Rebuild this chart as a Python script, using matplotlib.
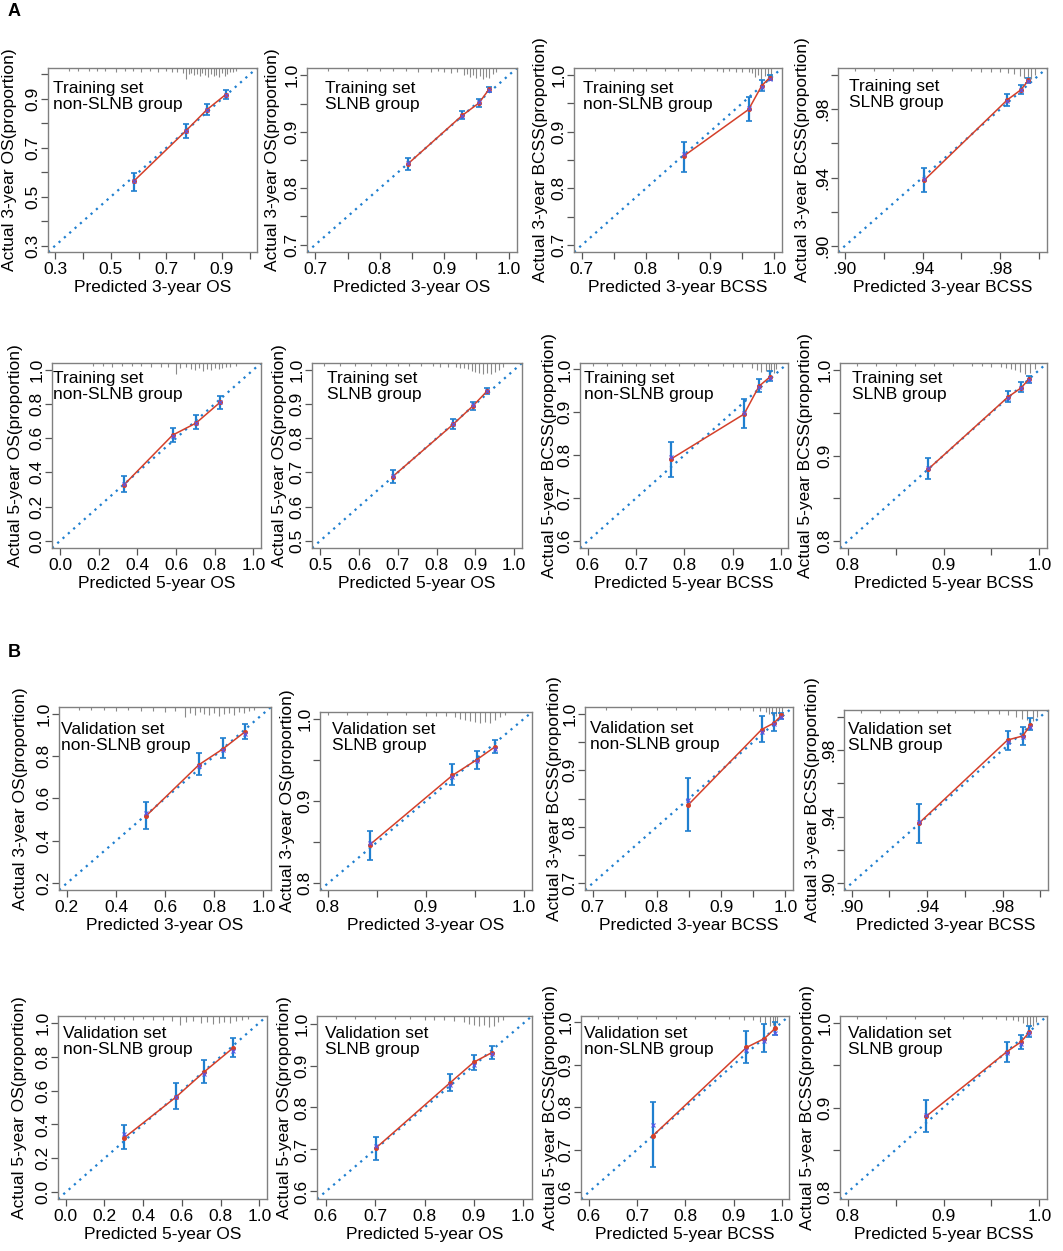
import matplotlib
matplotlib.use("Agg")
import matplotlib.pyplot as plt

plt.rcParams['font.family'] = ['Liberation Sans', 'DejaVu Sans']

W, H = 1063, 1251

# ---------------- data ----------------
# Training set, 3-year OS, non-SLNB
t3os_n_x = [0.583, 0.770, 0.846, 0.914]
t3os_n_y = [0.564, 0.769, 0.856, 0.918]
t3os_n_lo = [0.525, 0.742, 0.833, 0.899]
t3os_n_hi = [0.598, 0.799, 0.881, 0.938]
t3os_n_yc = [0.566, 0.768, 0.853, 0.915]
t3os_n_rx = [0.35, 0.38, 0.42, 0.45, 0.48, 0.52, 0.55, 0.58, 0.61, 0.64, 0.67, 0.70, 0.72, 0.74, 0.76, 0.77, 0.78,
             0.79, 0.80, 0.81, 0.82, 0.83, 0.84, 0.85, 0.86, 0.87, 0.88, 0.89, 0.90, 0.91, 0.92, 0.93, 0.94, 0.95]
t3os_n_rh = [1, 1, 1, 1, 1, 2, 1, 1, 2, 1, 2, 1, 2, 2, 3, 9, 4, 3, 5, 4, 6, 3, 5, 7, 4, 6, 5, 7, 3, 6, 4, 2, 2, 1]

# Training set, 3-year OS, SLNB
t3os_s_x = [0.844, 0.928, 0.954, 0.970]
t3os_s_y = [0.8435, 0.929, 0.951, 0.976]
t3os_s_lo = [0.832, 0.922, 0.944, 0.970]
t3os_s_hi = [0.854, 0.936, 0.958, 0.979]
t3os_s_yc = [0.845, 0.928, 0.952, 0.974]
t3os_s_rx = [0.72, 0.75, 0.78, 0.80, 0.82, 0.84, 0.86, 0.88, 0.89, 0.90, 0.91, 0.92, 0.93, 0.935, 0.94, 0.945,
             0.95, 0.955, 0.96, 0.965, 0.97, 0.975, 0.98]
t3os_s_rh = [1, 1, 1, 1, 1, 1, 2, 2, 1, 2, 3, 2, 5, 4, 7, 5, 8, 6, 9, 7, 8, 4, 2]

# Training set, 3-year BCSS, non-SLNB
t3bc_n_x = [0.859, 0.960, 0.9805, 0.993]
t3bc_n_y = [0.857, 0.939, 0.981, 0.995]
t3bc_n_lo = [0.829, 0.919, 0.972, 0.991]
t3bc_n_hi = [0.882, 0.961, 0.990, 1.000]
t3bc_n_yc = [0.860, 0.941, 0.979, 0.993]
t3bc_n_rx = [0.72, 0.75, 0.78, 0.80, 0.83, 0.85, 0.87, 0.89, 0.91, 0.92, 0.93, 0.94, 0.95, 0.96, 0.965, 0.97,
             0.975, 0.98, 0.985, 0.99, 0.995]
t3bc_n_rh = [1, 1, 1, 1, 1, 1, 1, 1, 1, 2, 1, 2, 2, 2, 3, 7, 5, 9, 6, 10, 6]

# Training set, 3-year BCSS, SLNB
t3bc_s_x = [0.9409, 0.9836, 0.9905, 0.9944]
t3bc_s_y = [0.9385, 0.9854, 0.9912, 0.9967]
t3bc_s_lo = [0.9316, 0.9818, 0.9887, 0.9951]
t3bc_s_hi = [0.9453, 0.9887, 0.9938, 0.9980]
t3bc_s_yc = [0.9393, 0.9850, 0.9910, 0.9963]
t3bc_s_rx = [0.905, 0.915, 0.925, 0.935, 0.945, 0.955, 0.965, 0.970, 0.975, 0.980, 0.984, 0.987, 0.990, 0.992,
             0.994, 0.996, 0.998]
t3bc_s_rh = [1, 1, 1, 1, 1, 1, 1, 2, 2, 2, 3, 4, 6, 8, 7, 9, 5]

# Training set, 5-year OS, non-SLNB
t5os_n_x = [0.332, 0.582, 0.704, 0.828]
t5os_n_y = [0.329, 0.618, 0.689, 0.810]
t5os_n_lo = [0.286, 0.577, 0.652, 0.773]
t5os_n_hi = [0.378, 0.661, 0.736, 0.847]
t5os_n_yc = [0.335, 0.612, 0.690, 0.812]
t5os_n_rx = [0.17, 0.22, 0.27, 0.32, 0.37, 0.42, 0.47, 0.52, 0.56, 0.60, 0.62, 0.65, 0.68, 0.70, 0.72, 0.74,
             0.76, 0.78, 0.80, 0.82, 0.84, 0.86, 0.88, 0.91]
t5os_n_rh = [1, 1, 2, 1, 1, 1, 2, 2, 2, 9, 3, 2, 4, 5, 3, 6, 4, 5, 3, 4, 3, 2, 2, 1]

# Training set, 5-year OS, SLNB
t5os_s_x = [0.687, 0.843, 0.894, 0.931]
t5os_s_y = [0.688, 0.841, 0.895, 0.939]
t5os_s_lo = [0.669, 0.827, 0.883, 0.930]
t5os_s_hi = [0.706, 0.857, 0.907, 0.946]
t5os_s_yc = [0.690, 0.843, 0.896, 0.937]
t5os_s_rx = [0.51, 0.55, 0.59, 0.63, 0.67, 0.70, 0.73, 0.76, 0.79, 0.81, 0.83, 0.85, 0.86, 0.87, 0.88, 0.89,
             0.90, 0.91, 0.92, 0.93, 0.94, 0.95, 0.96, 0.97]
t5os_s_rh = [1, 1, 1, 1, 1, 1, 1, 1, 1, 2, 2, 2, 3, 3, 4, 6, 7, 8, 9, 8, 9, 7, 5, 2]

# Training set, 5-year BCSS, non-SLNB
t5bc_n_x = [0.772, 0.924, 0.955, 0.977]
t5bc_n_y = [0.791, 0.896, 0.961, 0.982]
t5bc_n_lo = [0.749, 0.864, 0.947, 0.973]
t5bc_n_hi = [0.832, 0.930, 0.977, 0.996]
t5bc_n_yc = [0.797, 0.899, 0.958, 0.980]
t5bc_n_rx = [0.61, 0.64, 0.67, 0.70, 0.73, 0.76, 0.79, 0.82, 0.85, 0.88, 0.90, 0.92, 0.94, 0.95, 0.96, 0.97,
             0.975, 0.98, 0.985, 0.99]
t5bc_n_rh = [1, 1, 1, 1, 1, 1, 1, 1, 1, 1, 2, 2, 3, 5, 7, 6, 9, 7, 8, 4]

# Training set, 5-year BCSS, SLNB
t5bc_s_x = [0.884, 0.967, 0.981, 0.989]
t5bc_s_y = [0.884, 0.968, 0.979, 0.989]
t5bc_s_lo = [0.873, 0.962, 0.974, 0.985]
t5bc_s_hi = [0.897, 0.975, 0.986, 0.993]
t5bc_s_yc = [0.885, 0.967, 0.979, 0.988]
t5bc_s_rx = [0.81, 0.83, 0.85, 0.87, 0.89, 0.91, 0.93, 0.94, 0.95, 0.96, 0.965, 0.97, 0.975, 0.98, 0.985,
             0.99, 0.995]
t5bc_s_rh = [1, 1, 1, 1, 1, 1, 1, 1, 2, 2, 3, 4, 5, 7, 9, 8, 4]

# Validation set, 3-year OS, non-SLNB
v3os_n_x = [0.523, 0.738, 0.836, 0.925]
v3os_n_y = [0.518, 0.759, 0.834, 0.914]
v3os_n_lo = [0.456, 0.709, 0.790, 0.879]
v3os_n_hi = [0.584, 0.816, 0.886, 0.950]
v3os_n_yc = [0.529, 0.752, 0.830, 0.905]
v3os_n_rx = [0.25, 0.30, 0.35, 0.40, 0.45, 0.50, 0.55, 0.60, 0.64, 0.68, 0.70, 0.72, 0.74, 0.76, 0.78, 0.80,
             0.82, 0.84, 0.86, 0.88, 0.90, 0.92, 0.94, 0.96]
v3os_n_rh = [1, 1, 1, 2, 1, 2, 2, 3, 2, 8, 4, 6, 3, 5, 6, 4, 7, 5, 4, 6, 3, 4, 2, 1]

# Validation set, 3-year OS, SLNB
v3os_s_x = [0.8428, 0.9268, 0.9516, 0.970]
v3os_s_y = [0.847, 0.931, 0.950, 0.9655]
v3os_s_lo = [0.829, 0.920, 0.939, 0.958]
v3os_s_hi = [0.864, 0.945, 0.961, 0.974]
v3os_s_yc = [0.849, 0.929, 0.949, 0.9635]
v3os_s_rx = [0.80, 0.82, 0.84, 0.86, 0.88, 0.90, 0.91, 0.92, 0.93, 0.935, 0.94, 0.945, 0.95, 0.955, 0.96,
             0.965, 0.97, 0.975, 0.98]
v3os_s_rh = [1, 1, 1, 1, 1, 2, 2, 2, 3, 5, 6, 7, 8, 9, 8, 9, 6, 3, 1]

# Validation set, 3-year BCSS, non-SLNB
v3bc_n_x = [0.849, 0.963, 0.982, 0.994]
v3bc_n_y = [0.839, 0.972, 0.9835, 0.997]
v3bc_n_lo = [0.792, 0.950, 0.969, 0.991]
v3bc_n_hi = [0.887, 0.996, 1.001, 1.001]
v3bc_n_yc = [0.848, 0.968, 0.982, 0.994]
v3bc_n_rx = [0.72, 0.76, 0.80, 0.83, 0.86, 0.89, 0.91, 0.93, 0.95, 0.96, 0.97, 0.975, 0.98, 0.985, 0.99, 0.995]
v3bc_n_rh = [1, 1, 1, 1, 1, 1, 1, 1, 2, 2, 3, 5, 6, 7, 8, 6]

# Validation set, 3-year BCSS, SLNB
v3bc_s_x = [0.9356, 0.9826, 0.9906, 0.9947]
v3bc_s_y = [0.936, 0.986, 0.9884, 0.995]
v3bc_s_lo = [0.924, 0.980, 0.983, 0.992]
v3bc_s_hi = [0.9476, 0.9916, 0.994, 0.999]
v3bc_s_yc = [0.937, 0.985, 0.988, 0.9936]
v3bc_s_rx = [0.905, 0.915, 0.925, 0.935, 0.945, 0.955, 0.965, 0.972, 0.978, 0.983, 0.987, 0.990, 0.993,
             0.996, 0.998]
v3bc_s_rh = [1, 1, 1, 1, 1, 1, 1, 2, 2, 3, 5, 7, 8, 9, 5]

# Validation set, 5-year OS, non-SLNB
v5os_n_x = [0.301, 0.569, 0.713, 0.866]
v5os_n_y = [0.320, 0.561, 0.708, 0.853]
v5os_n_lo = [0.257, 0.492, 0.643, 0.800]
v5os_n_hi = [0.398, 0.643, 0.780, 0.908]
v5os_n_yc = [0.343, 0.563, 0.700, 0.835]
v5os_n_rx = [0.10, 0.15, 0.20, 0.25, 0.30, 0.35, 0.40, 0.45, 0.50, 0.55, 0.59, 0.62, 0.66, 0.70, 0.73, 0.76,
             0.79, 0.82, 0.85, 0.88, 0.91, 0.94]
v5os_n_rh = [1, 1, 1, 2, 1, 2, 1, 2, 2, 3, 7, 4, 3, 5, 4, 6, 5, 4, 5, 3, 2, 1]

# Validation set, 5-year OS, SLNB
v5os_s_x = [0.701, 0.851, 0.900, 0.937]
v5os_s_y = [0.703, 0.858, 0.908, 0.931]
v5os_s_lo = [0.676, 0.839, 0.890, 0.915]
v5os_s_hi = [0.730, 0.880, 0.925, 0.946]
v5os_s_yc = [0.709, 0.853, 0.902, 0.927]
v5os_s_rx = [0.62, 0.66, 0.70, 0.74, 0.77, 0.80, 0.82, 0.84, 0.86, 0.88, 0.89, 0.90, 0.91, 0.92, 0.93, 0.94,
             0.95, 0.96]
v5os_s_rh = [1, 1, 1, 1, 1, 2, 2, 2, 3, 4, 6, 7, 8, 7, 9, 8, 4, 2]

# Validation set, 5-year BCSS, non-SLNB
v5bc_n_x = [0.732, 0.926, 0.963, 0.9855]
v5bc_n_y = [0.732, 0.940, 0.961, 0.985]
v5bc_n_lo = [0.660, 0.903, 0.930, 0.969]
v5bc_n_hi = [0.812, 0.979, 0.996, 1.000]
v5bc_n_yc = [0.758, 0.935, 0.955, 0.975]
v5bc_n_rx = [0.62, 0.66, 0.70, 0.74, 0.78, 0.82, 0.86, 0.89, 0.92, 0.94, 0.955, 0.965, 0.975, 0.98, 0.985, 0.99]
v5bc_n_rh = [1, 1, 1, 1, 1, 1, 1, 1, 2, 2, 4, 6, 8, 7, 9, 5]

# Validation set, 5-year BCSS, SLNB
v5bc_s_x = [0.8817, 0.9663, 0.981, 0.9896]
v5bc_s_y = [0.8894, 0.966, 0.9776, 0.989]
v5bc_s_lo = [0.871, 0.954, 0.9686, 0.9835]
v5bc_s_hi = [0.909, 0.9776, 0.9855, 0.9961]
v5bc_s_yc = [0.891, 0.964, 0.975, 0.988]
v5bc_s_rx = [0.81, 0.84, 0.87, 0.90, 0.92, 0.94, 0.955, 0.965, 0.972, 0.978, 0.983, 0.987, 0.990, 0.993, 0.996]
v5bc_s_rh = [1, 1, 1, 1, 1, 1, 1, 2, 2, 3, 5, 7, 9, 8, 4]

# axis labels and tick labels
xlab_3os, ylab_3os = "Predicted 3-year OS", "Actual 3-year OS(proportion)"
xlab_3bc, ylab_3bc = "Predicted 3-year BCSS", "Actual 3-year BCSS(proportion)"
xlab_5os, ylab_5os = "Predicted 5-year OS", "Actual 5-year OS(proportion)"
xlab_5bc, ylab_5bc = "Predicted 5-year BCSS", "Actual 5-year BCSS(proportion)"

ticks_a = [0.3, 0.4, 0.5, 0.6, 0.7, 0.8, 0.9, 1.0]
labels_a = ["0.3", "", "0.5", "", "0.7", "", "0.9", ""]
ticks_b = [0.70, 0.75, 0.80, 0.85, 0.90, 0.95, 1.00]
labels_b = ["0.7", "", "0.8", "", "0.9", "", "1.0"]
ticks_c = [0.90, 0.92, 0.94, 0.96, 0.98, 1.00]
labels_c = [".90", "", ".94", "", ".98", ""]
ticks_d = [0.0, 0.2, 0.4, 0.6, 0.8, 1.0]
labels_d = ["0.0", "0.2", "0.4", "0.6", "0.8", "1.0"]
ticks_e = [0.5, 0.6, 0.7, 0.8, 0.9, 1.0]
labels_e = ["0.5", "0.6", "0.7", "0.8", "0.9", "1.0"]
ticks_f = [0.6, 0.7, 0.8, 0.9, 1.0]
labels_f = ["0.6", "0.7", "0.8", "0.9", "1.0"]
ticks_g = [0.80, 0.85, 0.90, 0.95, 1.00]
labels_g = ["0.8", "", "0.9", "", "1.0"]
ticks_h = [0.2, 0.4, 0.6, 0.8, 1.0]
labels_h = ["0.2", "0.4", "0.6", "0.8", "1.0"]

tr_non = "Training set\nnon-SLNB group"
tr_sl = "Training set\nSLNB group"
va_non = "Validation set\nnon-SLNB group"
va_sl = "Validation set\nSLNB group"

# ---------------- panels ----------------
def P(pref, text, xlab, ylab, ticks, labels, lim, box, tpos, ygap):
    g = globals()
    return dict(x=g[pref + "_x"], y=g[pref + "_y"], lo=g[pref + "_lo"], hi=g[pref + "_hi"],
                yc=g[pref + "_yc"], rx=g[pref + "_rx"], rh=g[pref + "_rh"],
                text=text, xlab=xlab, ylab=ylab, ticks=ticks, labels=labels, lim=lim,
                box=box, tpos=tpos, ygap=ygap)

panels = [
    P("t3os_n", tr_non, xlab_3os, ylab_3os, ticks_a, labels_a, (0.2735, 1.0265), (48, 68, 257, 252), (5, 13), 31),
    P("t3os_s", tr_sl, xlab_3os, ylab_3os, ticks_b, labels_b, (0.687, 1.013), (307, 68, 517, 252), (18, 13), 27),
    P("t3bc_n", tr_non, xlab_3bc, ylab_3bc, ticks_b, labels_b, (0.688, 1.012), (574, 68, 782, 252), (9, 13), 26),
    P("t3bc_s", tr_sl, xlab_3bc, ylab_3bc, ticks_c, labels_c, (0.8965, 1.004), (838, 68, 1047, 252), (11, 11), 28),
    P("t5os_n", tr_non, xlab_5os, ylab_5os, ticks_d, labels_d, (-0.042, 1.040), (52, 363, 261, 548), (1, 8), 29),
    P("t5os_s", tr_sl, xlab_5os, ylab_5os, ticks_e, labels_e, (0.479, 1.020), (312, 363, 522, 548), (15, 8), 25),
    P("t5bc_n", tr_non, xlab_5bc, ylab_5bc, ticks_f, labels_f, (0.584, 1.015), (580, 363, 788, 548), (4, 8), 23),
    P("t5bc_s", tr_sl, xlab_5bc, ylab_5bc, ticks_g, labels_g, (0.792, 1.008), (840, 363, 1047, 548), (12, 8), 27),
    P("v3os_n", va_non, xlab_3os, ylab_3os, ticks_h, labels_h, (0.168, 1.031), (59, 707, 271, 890), (2, 15), 31),
    P("v3os_s", va_sl, xlab_3os, ylab_3os, ticks_g, labels_g, (0.792, 1.008), (320, 712, 532, 890), (12, 10), 25),
    P("v3bc_n", va_non, xlab_3bc, ylab_3bc, ticks_b, labels_b, (0.688, 1.012), (585, 707, 793, 890), (5, 14), 23),
    P("v3bc_s", va_sl, xlab_3bc, ylab_3bc, ticks_c, labels_c, (0.896, 1.004), (844, 710, 1048, 890), (4, 12), 24),
    P("v5os_n", va_non, xlab_5os, ylab_5os, ticks_d, labels_d, (-0.040, 1.040), (58, 1016, 267, 1199), (5, 10), 31),
    P("v5os_s", va_sl, xlab_5os, ylab_5os, ticks_f, labels_f, (0.582, 1.018), (317, 1016, 532, 1199), (8, 10), 25),
    P("v5bc_n", va_non, xlab_5bc, ylab_5bc, ticks_f, labels_f, (0.584, 1.014), (581, 1016, 789, 1199), (3, 10), 23),
    P("v5bc_s", va_sl, xlab_5bc, ylab_5bc, ticks_g, labels_g, (0.792, 1.008), (840, 1016, 1047, 1199), (8, 10), 25),
]

BLUE = "#1f7fcf"
RED = "#d4402a"
XBLUE = "#5a55e8"
RUG = "#8a8a8a"
SPINE = "#808080"
PX2PT = 72.0 / 100.0

fig = plt.figure(figsize=(W / 100, H / 100), dpi=100)

for p in panels:
    L, T, R, B = p["box"]
    ax = fig.add_axes([L / W, 1 - B / H, (R - L) / W, (B - T) / H])
    lo, hi = p["lim"]
    ax.set_xlim(lo, hi)
    ax.set_ylim(lo, hi)

    # ideal line
    ax.axline((0.5, 0.5), slope=1, color=BLUE, lw=1.6, linestyle=(0, (1, 2.2)), zorder=1)

    # rug of predicted values along the top
    hpx = B - T
    ax.vlines(p["rx"], [1 - (h + 1.5) / hpx for h in p["rh"]], 1, transform=ax.get_xaxis_transform(),
              color=RUG, lw=0.8, zorder=1)

    # error bars
    yerr = [[y - l for y, l in zip(p["y"], p["lo"])], [h - y for y, h in zip(p["y"], p["hi"])]]
    ax.errorbar(p["x"], p["y"], yerr=yerr, fmt="none", ecolor=BLUE, elinewidth=1.6,
                capsize=2.2, capthick=1.2, zorder=3)
    # observed
    ax.plot(p["x"], p["y"], color=RED, lw=1.1, marker="o", ms=2.6, zorder=4)
    # bias corrected
    ax.plot(p["x"], p["yc"], linestyle="none", marker="x", color=XBLUE, ms=3.5, mew=0.8, zorder=5)

    ax.set_xticks(p["ticks"])
    ax.set_xticklabels(p["labels"])
    ax.set_yticks(p["ticks"])
    ax.set_yticklabels(p["labels"], rotation=90, va="center")
    ax.tick_params(axis="both", direction="out", length=4.8, width=0.9, color="#555555",
                   labelsize=12.5, labelcolor="black")
    ax.tick_params(axis="x", pad=2.5)
    ax.tick_params(axis="y", pad=0.5)
    for s in ax.spines.values():
        s.set_color(SPINE)
        s.set_linewidth(1.0)

    ax.set_xlabel(p["xlab"], fontsize=12.5, labelpad=2)
    ax.set_ylabel(p["ylab"], fontsize=12.5)
    ax.yaxis.set_label_coords(-p["ygap"] / (R - L), 0.5)

    dx, dy = p["tpos"]
    ax.annotate(p["text"], xy=(0, 1), xycoords="axes fraction", xytext=(dx * PX2PT, -dy * PX2PT),
                textcoords="offset points", ha="left", va="top", fontsize=12.5, linespacing=1.05)

fig.text(8 / W, 1 - 12 / H, "A", fontsize=13, fontweight="bold", ha="left", va="center")
fig.text(8 / W, 1 - 652 / H, "B", fontsize=13, fontweight="bold", ha="left", va="center")

fig.savefig("out.png", dpi=100)
